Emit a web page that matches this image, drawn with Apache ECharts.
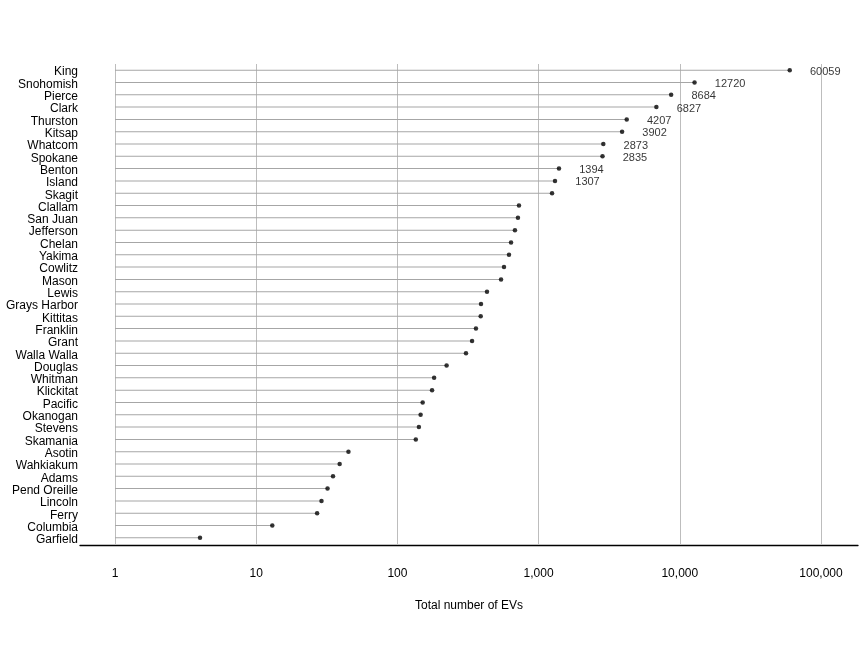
<!DOCTYPE html>
<html>
<head>
<meta charset="utf-8">
<script src="https://cdn.jsdelivr.net/npm/echarts@6/dist/echarts.min.js"></script>
<style>html,body{margin:0;padding:0;background:#fff}#c{width:864px;height:648px}</style>
</head>
<body>
<div id="c"></div>
<script>
const counties = ["King","Snohomish","Pierce","Clark","Thurston","Kitsap","Whatcom","Spokane","Benton","Island","Skagit","Clallam","San Juan","Jefferson","Chelan","Yakima","Cowlitz","Mason","Lewis","Grays Harbor","Kittitas","Franklin","Grant","Walla Walla","Douglas","Whitman","Klickitat","Pacific","Okanogan","Stevens","Skamania","Asotin","Wahkiakum","Adams","Pend Oreille","Lincoln","Ferry","Columbia","Garfield"];
const evCounts = [60059,12720,8684,6827,4207,3902,2873,2835,1394,1307,1245,726,714,680,638,617,569,542,431,391,389,360,338,306,223,182,176,151,146,142,135,45,39,35,32,29,27,13,4];
const labeledCount = 10;
const xTicks = [1,10,100,1000,10000,100000];
const xTitle = "Total number of EVs";

const font = "Liberation Sans, Arial, sans-serif";
const chart = echarts.init(document.getElementById('c'), null, {renderer:'canvas'});
const dotData = evCounts.map((v,i)=>({
  value: v,
  label: { show: i < labeledCount }
}));
chart.setOption({
  animation: false,
  backgroundColor: '#fff',
  grid: [
    { left: 115, right: 43, top: 64, bottom: 104 },
    { left: 80, right: 6, top: 63, bottom: 103 }
  ],
  xAxis: [
    { gridIndex: 0, type: 'log', logBase: 10, min: xTicks[0], max: xTicks[xTicks.length-1],
      axisLine: { show: false }, axisTick: { show: false },
      axisLabel: { color: '#000', fontFamily: font, fontSize: 12, margin: 24,
        formatter: v => Number(v).toLocaleString('en-US') },
      splitLine: { show: true, lineStyle: { color: '#bdbdbd', width: 1 } } },
    { gridIndex: 1, type: 'value', min: 0, max: 1,
      axisLine: { show: true, onZero: false, lineStyle: { color: '#000', width: 1.3 } },
      axisTick: { show: false }, axisLabel: { show: false }, splitLine: { show: false },
      name: xTitle, nameLocation: 'middle', nameGap: 55,
      nameTextStyle: { color: '#000', fontFamily: font, fontSize: 12 } }
  ],
  yAxis: [
    { gridIndex: 0, type: 'category', data: counties, inverse: true,
      axisLine: { show: false }, axisTick: { show: false }, splitLine: { show: false },
      axisLabel: { margin: 37, interval: 0,
        formatter: v => '{n|' + v + '}',
        rich: { n: { color: '#000', fontFamily: font, fontSize: 12, padding: [4, 0, 0, 0] } } } },
    { gridIndex: 1, type: 'value', show: false }
  ],
  series: [
    { type: 'bar', xAxisIndex: 0, yAxisIndex: 0, data: evCounts, barWidth: 1,
      itemStyle: { color: '#a6a6a6' }, silent: true },
    { type: 'scatter', xAxisIndex: 0, yAxisIndex: 0, data: dotData, symbol: 'circle', symbolSize: 4.5,
      itemStyle: { color: '#000' },
      label: { position: 'right', distance: 18, color: '#000', fontFamily: font, fontSize: 11,
        offset: [0, 1.5] } }
  ]
});
</script>
</body>
</html>
